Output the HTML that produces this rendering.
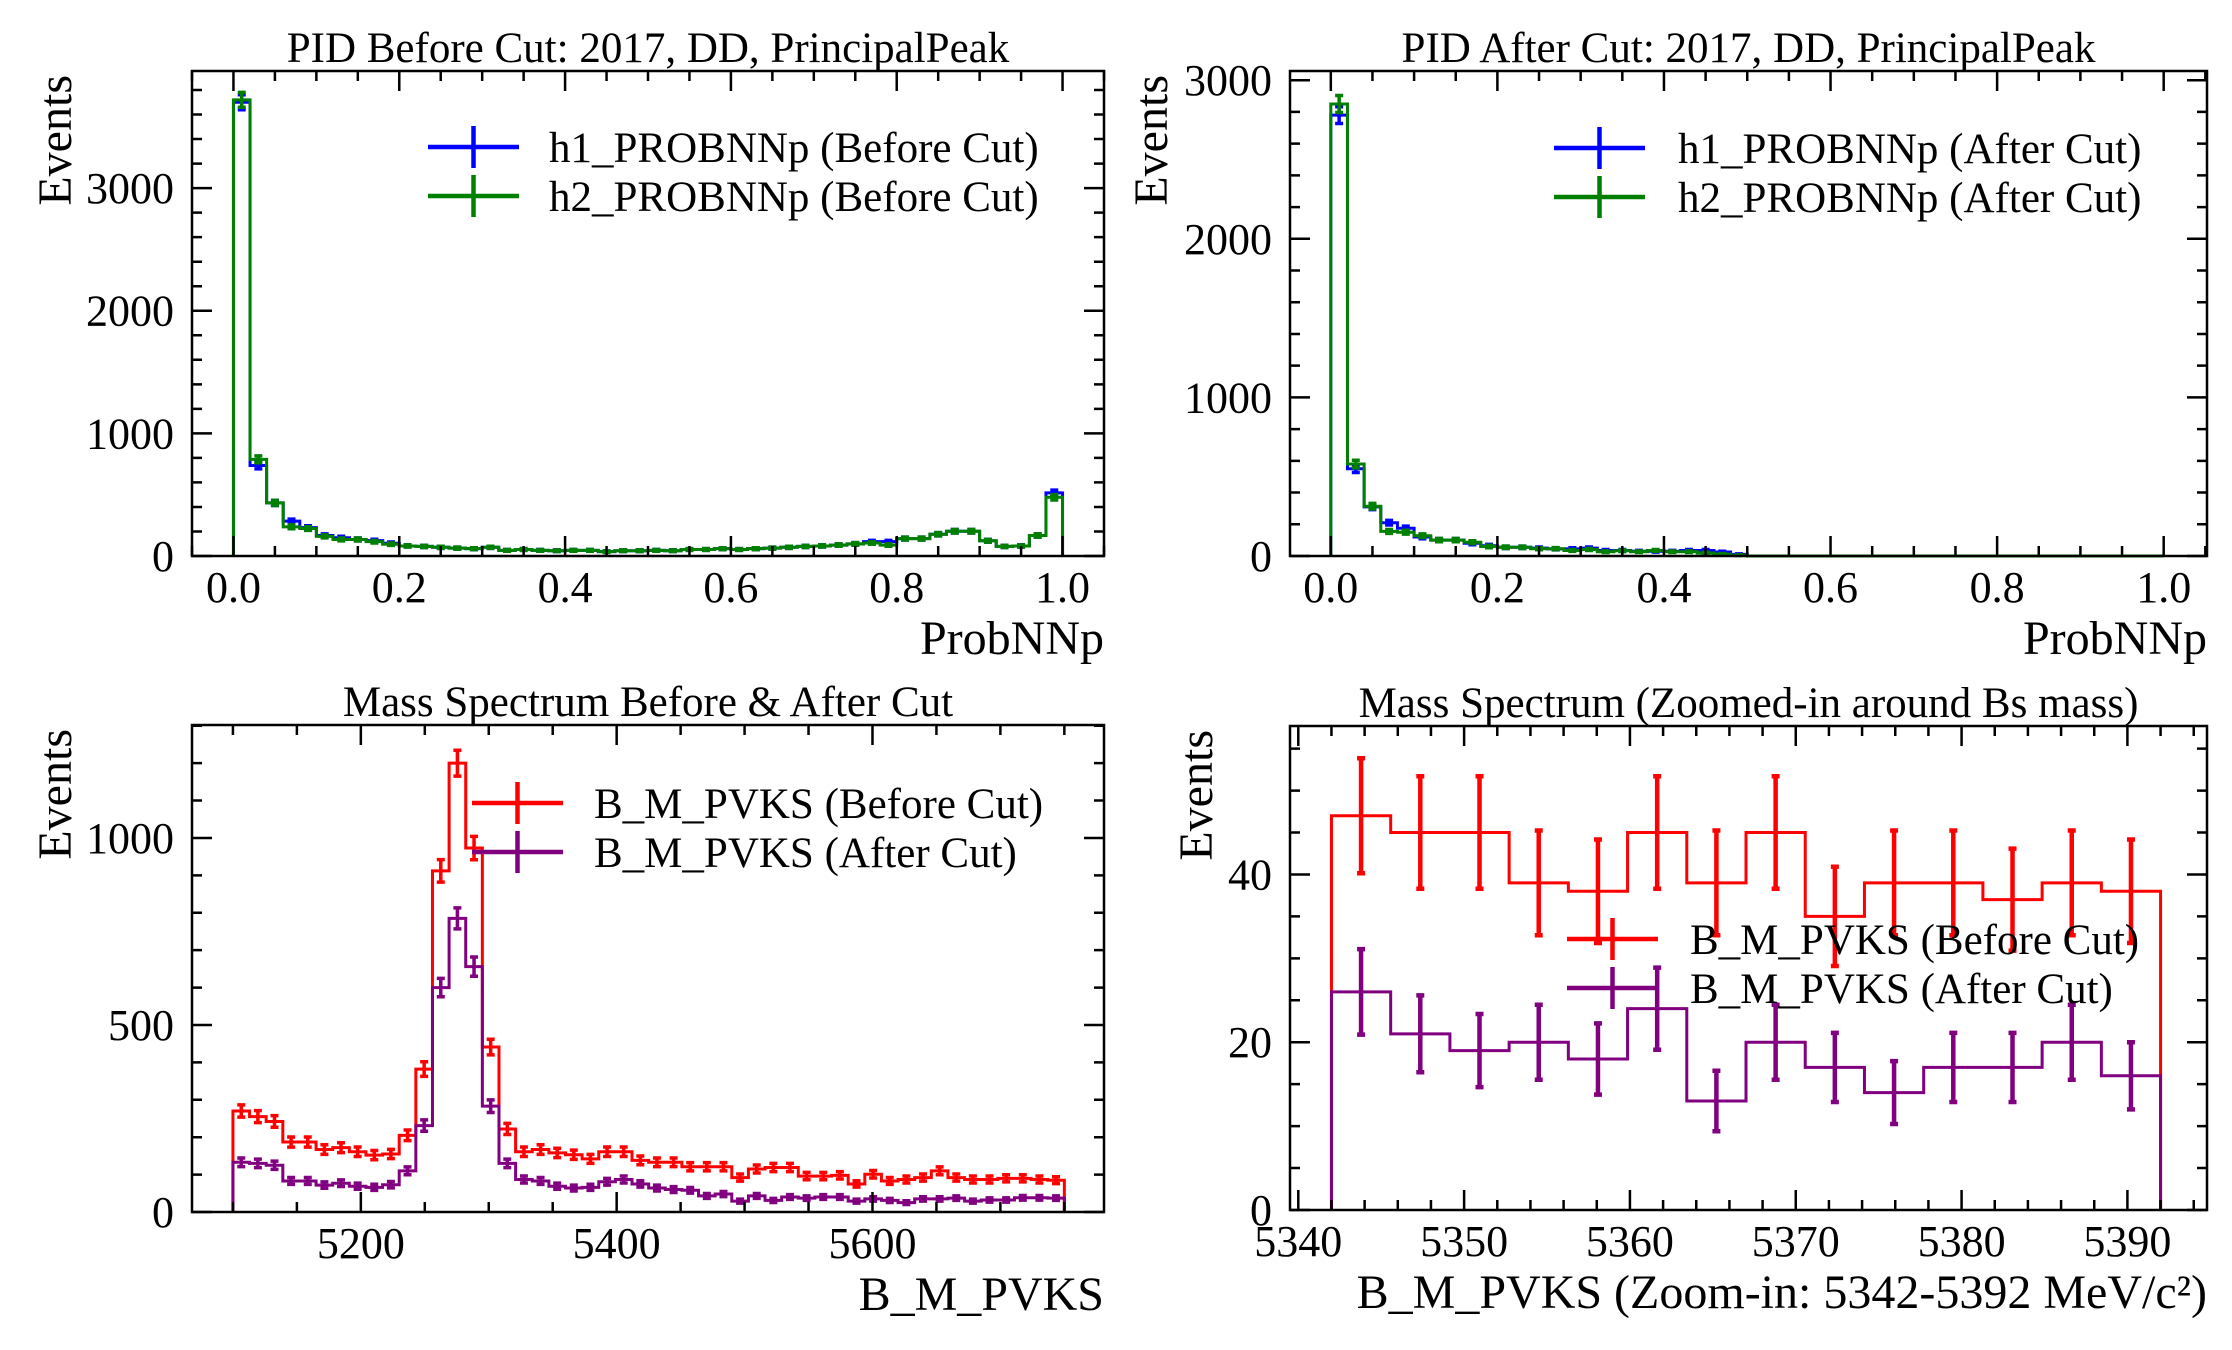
<!DOCTYPE html>
<html><head><meta charset="utf-8">
<style>
html,body{margin:0;padding:0;background:#fff;}
svg{display:block;font-family:"Liberation Serif","DejaVu Serif",serif;}
</style></head>
<body>
<svg id="fig" width="2232" height="1350" viewBox="0 0 2232 1350" xmlns="http://www.w3.org/2000/svg"></svg>
<script>
// ---------- DATA ----------
const pidBins = 50;
const h1Before = [3700,738,433,284,231,167,149,135,125,104,82,78,71,64,60,71,46,53,46,43,46,46,36,43,43,46,43,53,53,60,53,60,64,71,78,82,89,99,117,117,142,142,177,202,202,124,78,82,167,515];
const h2Before = [3720,788,433,238,224,160,135,135,117,96,82,78,71,64,60,71,46,53,46,43,46,46,36,43,43,46,43,53,53,60,53,60,64,71,78,82,89,99,106,89,142,142,177,202,202,124,78,82,167,479];
const h1After = [2780,550,310,210,175,120,100,100,80,65,55,55,50,45,45,50,35,35,30,30,30,35,35,25,10,0,0,0,0,0,0,0,0,0,0,0,0,0,0,0,0,0,0,0,0,0,0,0,0,0];
const h2After = [2850,580,314,155,150,128,100,100,87,60,55,55,46,46,35,41,27,33,27,35,27,27,19,12,5,0,0,0,0,0,0,0,0,0,0,0,0,0,0,0,0,0,0,0,0,0,0,0,0,0];
const massRange = [5100,5750];
const massBefore = [270,255,242,187,187,167,172,161,152,155,205,382,912,1200,973,441,222,161,167,158,153,142,161,161,138,133,133,121,121,121,92,115,119,119,96,96,98,75,101,83,87,92,110,92,87,87,90,90,87,85];
const massAfter = [133,130,125,83,83,72,77,69,66,73,110,231,600,785,656,283,130,87,83,69,64,66,81,87,75,64,60,58,43,48,29,43,31,40,37,40,40,29,35,31,25,35,35,37,29,32,32,38,38,37];
const zoomRange = [5342,5392];
const zoomBefore = [47,45,45,39,38,45,39,45,35,39,39,37,39,38];
const zoomAfter = [26,21,19,20,18,24,13,20,17,14,17,17,20,16];
const pidTicks = ["0.0","0.2","0.4","0.6","0.8","1.0"];
const tlYTicks = ["0","1000","2000","3000"];
const trYTicks = ["0","1000","2000","3000"];
const blXTicks = ["5200","5400","5600"];
const blYTicks = ["0","500","1000"];
const brXTicks = ["5340","5350","5360","5370","5380","5390"];
const brYTicks = ["0","20","40"];

// ---------- DRAWING ----------
const NS = "http://www.w3.org/2000/svg";
const svg = document.getElementById('fig');
function mk(tag, attrs, parent){
  const e = document.createElementNS(NS, tag);
  for (const k in attrs) e.setAttribute(k, attrs[k]);
  (parent||svg).appendChild(e);
  return e;
}

function panel(cfg){
  const g = mk('g', {});
  
  
  const X = v => cfg.L + (v - cfg.x0)/(cfg.x1 - cfg.x0)*(cfg.R - cfg.L);
  const Y = v => cfg.B - (v - cfg.y0)/(cfg.y1 - cfg.y0)*(cfg.B - cfg.T);
  const ebw = cfg.ebw || 3.5;
  cfg.series.forEach(s => {
    const n = s.values.length;
    const w = (cfg.hx1 - cfg.hx0)/n;
    let d = 'M' + X(cfg.hx0) + ',' + Y(0);
    s.values.forEach((v,i)=>{
      d += ' L' + X(cfg.hx0+i*w) + ',' + Y(v) + ' L' + X(cfg.hx0+(i+1)*w) + ',' + Y(v);
    });
    d += ' L' + X(cfg.hx1) + ',' + Y(0);
    const p = mk('path', {d:d, fill:'none', stroke:s.color, 'stroke-width':3}, g);
    
    
    s.values.forEach((v,i)=>{
      if (v <= 0) return;
      const cx = X(cfg.hx0+(i+0.5)*w);
      const e = Math.sqrt(v);
      const yt = Y(v+e), yb = Y(Math.max(0,v-e));
      const eb = mk('path', {d:`M${cx},${yt} L${cx},${yb} M${cx-4},${yt} L${cx+4},${yt} M${cx-4},${yb} L${cx+4},${yb}`, stroke:s.color, 'stroke-width':ebw, fill:'none'}, g);
      
      
    });
  });
  const fr = mk('rect', {x:cfg.L, y:cfg.T, width:cfg.R-cfg.L, height:cfg.B-cfg.T, fill:'none', stroke:'#000', 'stroke-width':2.5}, g);
  
  
  let td = '';
  const eps = 1e-9;
  for (let v = Math.ceil(cfg.x0/cfg.xminor - eps)*cfg.xminor; v <= cfg.x1+eps; v += cfg.xminor){
    const isMaj = Math.abs(v/cfg.xmajor - Math.round(v/cfg.xmajor)) < 1e-6;
    const len = isMaj ? 20 : 10; const x = X(v);
    td += `M${x},${cfg.B} L${x},${cfg.B-len} M${x},${cfg.T} L${x},${cfg.T+len} `;
  }
  for (let v = Math.ceil(cfg.y0/cfg.yminor - eps)*cfg.yminor; v <= cfg.y1+eps; v += cfg.yminor){
    const isMaj = Math.abs(v/cfg.ymajor - Math.round(v/cfg.ymajor)) < 1e-6;
    const len = isMaj ? 20 : 10; const y = Y(v);
    td += `M${cfg.L},${y} L${cfg.L+len},${y} M${cfg.R},${y} L${cfg.R-len},${y} `;
  }
  const tk = mk('path', {d:td, stroke:'#000', 'stroke-width':2.5, fill:'none'}, g);
  
  
  cfg.xticks.forEach(t=>{
    const el = mk('text', {x:X(parseFloat(t)), y:cfg.B+46, 'font-size':44, 'text-anchor':'middle'}, g);
    el.textContent = t;
    
    
  });
  cfg.yticks.forEach(t=>{
    const el = mk('text', {x:cfg.L-18, y:Y(parseFloat(t))+15, 'font-size':44, 'text-anchor':'end'}, g);
    el.textContent = t;
    
    
  });
  const ti = mk('text', {x:(cfg.L+cfg.R)/2, y:cfg.T-9, 'font-size':43, 'text-anchor':'middle'}, g);
  ti.textContent = cfg.title;
  
  
  const xl = mk('text', {x:cfg.R, y:cfg.B+98, 'font-size':48, 'text-anchor':'end'}, g);
  xl.textContent = cfg.xlabel;
  
  
  const yl = mk('text', {x:0, y:0, 'font-size':48, 'text-anchor':'end', transform:`translate(${cfg.ylx},${cfg.T+4}) rotate(-90)`}, g);
  yl.textContent = 'Events';
  
  
  cfg.series.forEach((s,i)=>{
    const y = cfg.leg.y + i*49;
    const lg = mk('g', {}, g);
    
    
    const cx = (cfg.leg.x0+cfg.leg.x1)/2;
    mk('path', {d:`M${cfg.leg.x0},${y} L${cfg.leg.x1},${y} M${cx},${y-21} L${cx},${y+21}`, stroke:s.color, 'stroke-width':4.5, fill:'none'}, lg);
    const tx = mk('text', {x:cfg.leg.tx, y:y+15, 'font-size':43}, lg);
    tx.textContent = s.label;
  });
}

panel({name:'pid-before-panel', L:192,R:1104,T:71,B:556, x0:-0.05,x1:1.05,y0:0,y1:3955, hx0:0,hx1:1,
  xmajor:0.2,xminor:0.05,ymajor:1000,yminor:200, xticks:pidTicks, yticks:tlYTicks,
  title:'PID Before Cut: 2017, DD, PrincipalPeak', xlabel:'ProbNNp', ylx:71,
  leg:{x0:428,x1:519,y:147,tx:549},
  series:[{key:'h1-before',values:h1Before,color:'#0000ff',label:'h1_PROBNNp (Before Cut)'},
          {key:'h2-before',values:h2Before,color:'#008000',label:'h2_PROBNNp (Before Cut)'}]});

panel({name:'pid-after-panel', L:1290,R:2207,T:71,B:556, x0:-0.049,x1:1.052,y0:0,y1:3058, hx0:0,hx1:1,
  xmajor:0.2,xminor:0.05,ymajor:1000,yminor:200, xticks:pidTicks, yticks:trYTicks,
  title:'PID After Cut: 2017, DD, PrincipalPeak', xlabel:'ProbNNp', ylx:1167,
  leg:{x0:1554,x1:1645,y:148,tx:1678},
  series:[{key:'h1-after',values:h1After,color:'#0000ff',label:'h1_PROBNNp (After Cut)'},
          {key:'h2-after',values:h2After,color:'#008000',label:'h2_PROBNNp (After Cut)'}]});

panel({name:'mass-spectrum-panel', L:192,R:1104,T:725,B:1212, x0:5068,x1:5781,y0:0,y1:1302, hx0:massRange[0],hx1:massRange[1],
  xmajor:200,xminor:50,ymajor:500,yminor:100, xticks:blXTicks, yticks:blYTicks,
  title:'Mass Spectrum Before & After Cut', xlabel:'B_M_PVKS', ylx:71,
  leg:{x0:472,x1:563,y:803,tx:594},
  series:[{key:'mass-before',values:massBefore,color:'#ff0000',label:'B_M_PVKS (Before Cut)'},
          {key:'mass-after',values:massAfter,color:'#800080',label:'B_M_PVKS (After Cut)'}]});

panel({name:'mass-zoom-panel', L:1290,R:2207,T:726,B:1210, x0:5339.5,x1:5394.8,y0:0,y1:57.7, hx0:zoomRange[0],hx1:zoomRange[1],
  xmajor:10,xminor:2,ymajor:20,yminor:5, xticks:brXTicks, yticks:brYTicks, ebw:4.5,
  title:'Mass Spectrum (Zoomed-in around Bs mass)', xlabel:'B_M_PVKS (Zoom-in: 5342-5392 MeV/c²)', ylx:1212,
  leg:{x0:1567,x1:1658,y:939,tx:1690},
  series:[{key:'zoom-before',values:zoomBefore,color:'#ff0000',label:'B_M_PVKS (Before Cut)'},
          {key:'zoom-after',values:zoomAfter,color:'#800080',label:'B_M_PVKS (After Cut)'}]});
</script>
</body></html>
